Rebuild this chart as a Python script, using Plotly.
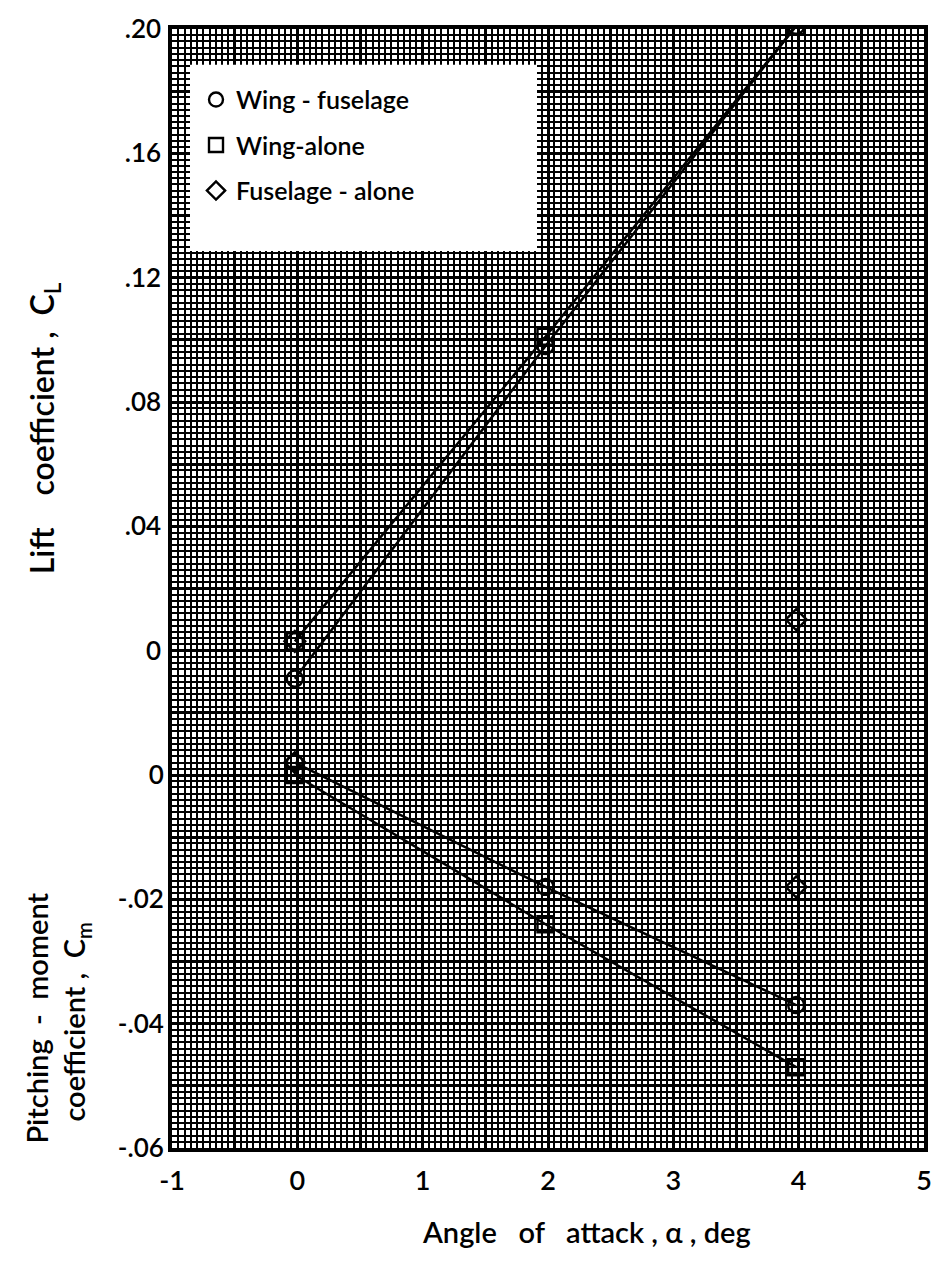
import numpy as np
import plotly.graph_objects as go

# ---- data ----
alpha = [-0.02, 1.98, 3.98]
cl_wing_fuselage = [-0.009, 0.098, 0.201]
cl_wing_alone = [0.003, 0.101, 0.201]
alpha_fus = [-0.02, 3.98]
cl_fuselage_alone = [0.003, 0.010]

cm_wing_fuselage = [0.002, -0.018, -0.037]
cm_wing_alone = [0.000, -0.024, -0.047]
cm_fuselage_alone = [0.002, -0.018]

x_ticks = [-1, 0, 1, 2, 3, 4, 5]
cl_ticks = [0.0, 0.04, 0.08, 0.12, 0.16, 0.20]
cl_tick_text = ["0", ".04", ".08", ".12", ".16", ".20"]
cm_ticks = [0.0, -0.02, -0.04, -0.06]
cm_tick_text = ["0", "-.02", "-.04", "-.06"]

FONT = "Lato, 'DejaVu Sans', sans-serif"
WT = 600
W, H = 947, 1270
L, R, T, B = 172, 23, 24, 122

fig = go.Figure()

mk = dict(color="black", size=16, line=dict(color="black", width=2.4))
ln = dict(color="black", width=2.5)

# lift traces (y)
fig.add_trace(go.Scatter(x=alpha, y=cl_wing_fuselage, mode="lines+markers",
                         marker=dict(symbol="circle-open", **mk), line=ln, showlegend=False))
fig.add_trace(go.Scatter(x=alpha, y=cl_wing_alone, mode="lines+markers",
                         marker=dict(symbol="square-open", **mk), line=ln, showlegend=False))
fig.add_trace(go.Scatter(x=alpha_fus, y=cl_fuselage_alone, mode="markers",
                         marker=dict(symbol="diamond-open", **mk), showlegend=False))
# pitching moment traces (y2)
fig.add_trace(go.Scatter(x=alpha, y=cm_wing_fuselage, mode="lines+markers", yaxis="y2",
                         marker=dict(symbol="circle-open", **mk), line=ln, showlegend=False))
fig.add_trace(go.Scatter(x=alpha, y=cm_wing_alone, mode="lines+markers", yaxis="y2",
                         marker=dict(symbol="square-open", **mk), line=ln, showlegend=False))
fig.add_trace(go.Scatter(x=alpha_fus, y=cm_fuselage_alone, mode="markers", yaxis="y2",
                         marker=dict(symbol="diamond-open", **mk), showlegend=False))

# legend entries
for name, sym, grp in [("Wing - fuselage", "circle-open", "a"),
                       ("Wing-alone", "square-open", "b"),
                       ("Fuselage - alone", "diamond-open", "c")]:
    fig.add_trace(go.Scatter(x=[None], y=[None], mode="markers", name=name, legendgroup=grp,
                             marker=dict(symbol=sym, color="black", size=14,
                                         line=dict(color="black", width=2.4))))

# axes
x_major = [round(v, 2) for v in np.arange(-1, 5.001, 0.5)]
x_text = [str(int(v)) if float(v).is_integer() else "" for v in x_major]
y_major = [round(v, 3) for v in np.arange(-0.16, 0.2001, 0.02)]
y_text = [cl_tick_text[cl_ticks.index(v)] if v in cl_ticks else "" for v in y_major]

grid_major = dict(gridcolor="black", gridwidth=3)
minor_grid = dict(showgrid=True, gridcolor="black", gridwidth=1.8)
fig.update_layout(
    width=W, height=H, margin=dict(l=L, r=R, t=T, b=B),
    paper_bgcolor="white", plot_bgcolor="white",
    font=dict(family=FONT, size=25, color="black", weight=WT),
    xaxis=dict(range=[-1, 5], tickmode="array", tickvals=x_major, ticktext=x_text,
               showgrid=True, **grid_major, zeroline=False,
               showline=True, linecolor="black", linewidth=3.5, mirror=True,
               ticks="outside", ticklen=6, tickcolor="rgba(0,0,0,0)",
               tickfont=dict(size=27, weight=WT),
               minor=dict(dtick=0.05, tick0=-1, **minor_grid)),
    yaxis=dict(range=[-0.16, 0.20], tickmode="array", tickvals=y_major, ticktext=y_text,
               showgrid=True, **grid_major, zeroline=False,
               showline=True, linecolor="black", linewidth=3.5, mirror=True,
               ticks="outside", ticklen=2, tickcolor="rgba(0,0,0,0)",
               tickfont=dict(size=26, weight=WT),
               minor=dict(dtick=0.002, tick0=0, **minor_grid)),
    yaxis2=dict(range=[-0.06, 0.12], overlaying="y", side="left", anchor="x",
                tickmode="array", tickvals=cm_ticks, ticktext=cm_tick_text,
                showgrid=False, zeroline=False, showline=False,
                ticks="outside", ticklen=2, tickcolor="rgba(0,0,0,0)",
                tickfont=dict(size=26, weight=WT)),
    legend=dict(x=(196 - L) / (W - L - R), y=(H - B - 72) / (H - T - B),
                xanchor="left", yanchor="top", bgcolor="rgba(0,0,0,0)",
                font=dict(size=25, weight=WT), traceorder="grouped", tracegroupgap=10,
                itemwidth=30),
    showlegend=True,
)

pw, ph = W - L - R, H - T - B
def px(xp):
    return (xp - L) / pw
def py(yp):
    return (H - B - yp) / ph

# white legend box
fig.add_shape(type="rect", xref="paper", yref="paper",
              x0=px(190), x1=px(537), y0=py(247), y1=py(60),
              fillcolor="white", line=dict(width=0), layer="above")

# axis titles
fig.add_annotation(text="Lift    coefficient ,  C<sub>L</sub>", xref="paper", yref="paper",
                   x=px(44), y=py(425), textangle=-90, showarrow=False,
                   xanchor="center", yanchor="middle", font=dict(size=32, weight=WT))
fig.add_annotation(text="Pitching  -  moment", xref="paper", yref="paper",
                   x=px(37), y=py(1018), textangle=-90, showarrow=False,
                   xanchor="center", yanchor="middle", font=dict(size=29, weight=WT))
fig.add_annotation(text="coefficient ,  C<sub>m</sub>", xref="paper", yref="paper",
                   x=px(76), y=py(1022), textangle=-90, showarrow=False,
                   xanchor="center", yanchor="middle", font=dict(size=29, weight=WT))
fig.add_annotation(text="Angle   of   attack , α , deg", xref="paper", yref="paper",
                   x=px(586), y=py(1232), showarrow=False,
                   xanchor="center", yanchor="middle", font=dict(size=29, weight=WT))

fig.write_html("out.html")
